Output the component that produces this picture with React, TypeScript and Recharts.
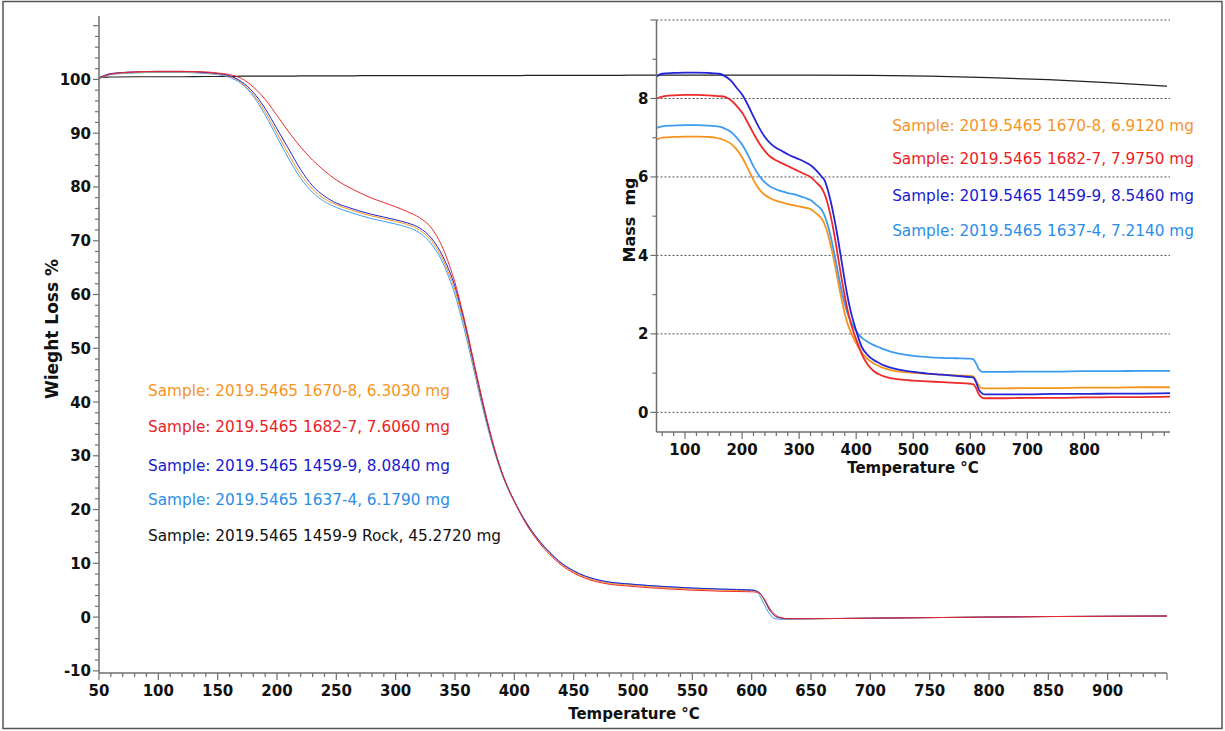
import React from 'react';
import { LineChart, Line, XAxis, YAxis, ReferenceLine } from 'recharts';

// temperature grid shared by every curve (°C)
const temps = [
  50, 60, 80, 100, 120, 140,
  150, 160, 170, 180, 190, 200, 210, 220, 230, 240, 250, 260, 270, 280, 290, 300, 310, 320, 330, 340,
  345, 350, 355, 360, 365, 370, 375, 380, 385, 390, 395, 400,
  410, 420, 430, 440, 450, 460,
  475, 500, 525, 550, 575, 600,
  605, 610, 615, 620, 625, 630,
  650, 700, 750, 800, 850, 900, 950,
];

// main chart, weight loss %
const pct1670 = [
  100.2, 101.0, 101.3, 101.4, 101.4, 101.2,
  101.0, 100.6, 99.4, 97.2, 94.0, 90.0, 86.0, 82.3, 79.6, 77.8, 76.7, 75.9, 75.2, 74.6, 74.1, 73.6, 73.0, 72.0, 70.0, 66.4,
  63.8, 60.8, 56.9, 52.4, 47.5, 42.6, 37.9, 33.6, 29.8, 26.5, 23.8, 21.5,
  17.5, 14.3, 11.8, 9.8, 8.4, 7.4,
  6.5, 5.9, 5.5, 5.2, 5.0, 4.9,
  4.7, 3.4, 1.3, 0.1, -0.2, -0.3,
  -0.3, -0.2, -0.1, 0.0, 0.1, 0.15, 0.2,
];
const pct1682 = [
  100.2, 101.0, 101.4, 101.5, 101.5, 101.4,
  101.2, 100.9, 100.2, 98.6, 96.3, 93.3, 90.2, 87.4, 85.0, 83.0, 81.3, 80.0, 78.9, 77.9, 77.1, 76.3, 75.4, 74.3, 72.4, 68.5,
  65.6, 62.2, 58.0, 53.4, 48.4, 43.4, 38.6, 34.1, 30.1, 26.7, 23.9, 21.5,
  17.3, 14.1, 11.6, 9.6, 8.2, 7.2,
  6.3, 5.7, 5.3, 5.0, 4.8, 4.7,
  4.6, 3.6, 1.7, 0.4, -0.1, -0.3,
  -0.3, -0.2, -0.1, 0.0, 0.1, 0.15, 0.2,
];
const pct1459 = [
  100.3, 101.1, 101.4, 101.5, 101.5, 101.3,
  101.1, 100.7, 99.6, 97.6, 94.6, 90.8, 87.0, 83.2, 80.2, 78.3, 77.0, 76.2, 75.5, 74.9, 74.4, 73.9, 73.3, 72.4, 70.5, 67.0,
  64.5, 61.5, 57.5, 53.0, 48.0, 43.0, 38.2, 33.8, 29.9, 26.6, 23.9, 21.6,
  17.6, 14.5, 12.0, 10.0, 8.6, 7.6,
  6.7, 6.1, 5.7, 5.4, 5.2, 5.0,
  4.8, 3.5, 1.4, 0.2, -0.2, -0.3,
  -0.3, -0.2, -0.1, 0.0, 0.1, 0.15, 0.2,
];
const pct1637 = [
  100.1, 100.9, 101.2, 101.3, 101.3, 101.1,
  100.9, 100.4, 99.2, 96.9, 93.4, 89.3, 85.2, 81.6, 79.0, 77.3, 76.2, 75.4, 74.7, 74.1, 73.6, 73.1, 72.5, 71.5, 69.4, 65.8,
  63.1, 60.0, 56.0, 51.6, 46.8, 42.0, 37.4, 33.2, 29.5, 26.3, 23.6, 21.4,
  17.5, 14.4, 12.0, 10.0, 8.6, 7.6,
  6.7, 6.1, 5.7, 5.4, 5.2, 5.1,
  4.6, 2.6, 0.6, -0.3, -0.4, -0.4,
  -0.3, -0.2, -0.1, 0.0, 0.1, 0.15, 0.2,
];
const pctRock = [
  100.4, 100.45, 100.5, 100.5, 100.5, 100.55,
  100.55, 100.55, 100.6, 100.6, 100.6, 100.6, 100.6, 100.65, 100.65, 100.65, 100.65, 100.65, 100.7, 100.7, 100.7, 100.7, 100.7, 100.7, 100.7, 100.7,
  100.7, 100.7, 100.7, 100.7, 100.7, 100.7, 100.7, 100.7, 100.7, 100.7, 100.7, 100.7,
  100.75, 100.75, 100.75, 100.75, 100.75, 100.75,
  100.75, 100.8, 100.8, 100.8, 100.8, 100.8,
  100.8, 100.8, 100.8, 100.8, 100.8, 100.8,
  100.8, 100.75, 100.6, 100.35, 99.95, 99.4, 98.75,
];

// inset, mass mg
const mg1670 = [
  6.95, 7.00, 7.02, 7.03, 7.03, 7.02,
  7.01, 6.98, 6.93, 6.85, 6.71, 6.50, 6.22, 5.92, 5.69, 5.54, 5.45, 5.39, 5.35, 5.31, 5.28, 5.25, 5.22, 5.18, 5.07, 4.92,
  4.78, 4.56, 4.28, 3.95, 3.58, 3.20, 2.84, 2.52, 2.26, 2.06, 1.90, 1.76,
  1.52, 1.36, 1.25, 1.18, 1.12, 1.08,
  1.04, 1.01, 0.98, 0.96, 0.94, 0.93,
  0.92, 0.82, 0.68, 0.62, 0.61, 0.61,
  0.61, 0.62, 0.62, 0.63, 0.63, 0.64, 0.64,
];
const mg1682 = [
  8.00, 8.05, 8.08, 8.09, 8.09, 8.08,
  8.07, 8.06, 8.04, 7.96, 7.82, 7.64, 7.38, 7.11, 6.86, 6.66, 6.51, 6.42, 6.35, 6.28, 6.21, 6.14, 6.07, 6.00, 5.86, 5.70,
  5.55, 5.32, 5.02, 4.66, 4.24, 3.80, 3.36, 2.96, 2.60, 2.30, 2.06, 1.86,
  1.48, 1.22, 1.06, 0.97, 0.91, 0.87,
  0.84, 0.81, 0.79, 0.77, 0.75, 0.73,
  0.72, 0.62, 0.46, 0.38, 0.36, 0.36,
  0.36, 0.37, 0.37, 0.38, 0.39, 0.39, 0.40,
];
const mg1459 = [
  8.56, 8.63, 8.65, 8.66, 8.66, 8.65,
  8.64, 8.63, 8.57, 8.46, 8.28, 8.10, 7.84, 7.54, 7.25, 7.02, 6.85, 6.74, 6.66, 6.58, 6.51, 6.45, 6.38, 6.30, 6.17, 6.00,
  5.90, 5.68, 5.40, 5.06, 4.68, 4.25, 3.80, 3.35, 2.94, 2.60, 2.32, 2.08,
  1.66, 1.46, 1.34, 1.26, 1.19, 1.14,
  1.09, 1.03, 0.99, 0.96, 0.93, 0.90,
  0.89, 0.77, 0.58, 0.49, 0.46, 0.46,
  0.46, 0.46, 0.47, 0.47, 0.48, 0.48, 0.49,
];
const mg1637 = [
  7.25, 7.29, 7.31, 7.32, 7.32, 7.31,
  7.30, 7.28, 7.23, 7.15, 7.01, 6.83, 6.57, 6.27, 6.03, 5.86, 5.75, 5.68, 5.63, 5.59, 5.56, 5.52, 5.47, 5.41, 5.29, 5.15,
  5.00, 4.78, 4.50, 4.17, 3.80, 3.42, 3.06, 2.76, 2.52, 2.33, 2.18, 2.07,
  1.90, 1.80, 1.72, 1.66, 1.60, 1.55,
  1.50, 1.44, 1.41, 1.39, 1.38, 1.37,
  1.36, 1.25, 1.10, 1.04, 1.03, 1.03,
  1.03, 1.04, 1.04, 1.05, 1.05, 1.06, 1.06,
];

// tick labels
const mainXLabels = [50, 100, 150, 200, 250, 300, 350, 400, 450, 500, 550, 600, 650, 700, 750, 800, 850, 900];
const mainYLabels = [-10, 0, 10, 20, 30, 40, 50, 60, 70, 80, 90, 100];
const insetXLabels = [100, 200, 300, 400, 500, 600, 700, 800];
const insetYLabels = [0, 2, 4, 6, 8];
const insetGrid = [0, 2, 4, 6, 8, 10];

const mainLegend = [
  { text: 'Sample: 2019.5465 1670-8, 6.3030 mg', color: '#f7941d', y: 390 },
  { text: 'Sample: 2019.5465 1682-7, 7.6060 mg', color: '#ec1c24', y: 426 },
  { text: 'Sample: 2019.5465 1459-9, 8.0840 mg', color: '#1a1acf', y: 465 },
  { text: 'Sample: 2019.5465 1637-4, 6.1790 mg', color: '#2b8de8', y: 499 },
  { text: 'Sample: 2019.5465 1459-9 Rock, 45.2720 mg', color: '#111', y: 535 },
];
const insetLegend = [
  { text: 'Sample: 2019.5465 1670-8, 6.9120 mg', color: '#f7941d', y: 125 },
  { text: 'Sample: 2019.5465 1682-7, 7.9750 mg', color: '#ec1c24', y: 158 },
  { text: 'Sample: 2019.5465 1459-9, 8.5460 mg', color: '#1a1acf', y: 195 },
  { text: 'Sample: 2019.5465 1637-4, 7.2140 mg', color: '#2b8de8', y: 230 },
];

const C_ORANGE = '#f7941d';
const C_RED = '#ee2a2a';
const C_BLUE = '#2424d8';
const C_LBLUE = '#3d9bf0';

const FONT = '"DejaVu Sans", Verdana, sans-serif';
const AXIS = '#6f6f6f';

const mainData = temps.map((t, i) => ({
  t, a: pct1670[i], b: pct1682[i], c: pct1459[i], d: pct1637[i], rock: pctRock[i],
}));
const insetData = temps.map((t, i) => ({
  t, a: mg1670[i], b: mg1682[i], c: mg1459[i], d: mg1637[i],
}));

const mainXTicks = Array.from({ length: 91 }, (_, i) => 50 + i * 10);
const mainYTicks = Array.from({ length: 61 }, (_, i) => -10 + i * 2);
const insetXTicks = Array.from({ length: 45 }, (_, i) => 60 + i * 20);
const insetYTicks = Array.from({ length: 11 }, (_, i) => i);

const xTick = (labels: number[], majorEvery: number) => (p: any) => {
  const v = p.payload.value;
  const major = v % majorEvery === 0;
  return (
    <g>
      <line x1={p.x} x2={p.x} y1={p.y} y2={p.y + (major ? 7 : 4)} stroke={AXIS} strokeWidth={1.2} />
      {labels.includes(v) && (
        <text x={p.x} y={p.y + 23} textAnchor="middle" fontFamily={FONT} fontWeight="bold" fontSize={15} fill="#111">
          {v}
        </text>
      )}
    </g>
  );
};

const yTick = (labels: number[], majorEvery: number) => (p: any) => {
  const v = p.payload.value;
  const major = v % majorEvery === 0;
  return (
    <g>
      <line x1={p.x} x2={p.x - (major ? 6 : 4)} y1={p.y} y2={p.y} stroke={AXIS} strokeWidth={1.2} />
      {labels.includes(v) && (
        <text x={p.x - 8} y={p.y + 5.5} textAnchor="end" fontFamily={FONT} fontWeight="bold" fontSize={15} fill="#111">
          {v}
        </text>
      )}
    </g>
  );
};

export default function App() {
  return (
    <div style={{ position: 'absolute', left: 0, top: 0, width: 1225, height: 731, background: '#fff' }}>
      <div style={{ position: 'absolute', left: 0, top: 0 }}>
        <LineChart width={1225} height={731} data={mainData} margin={{ top: 16, right: 58, bottom: 0, left: 0 }}>
          <XAxis
            dataKey="t" type="number" domain={[50, 950]} ticks={mainXTicks} interval={0}
            tickSize={0} tickMargin={0} height={58} tick={xTick(mainXLabels, 50)}
            axisLine={{ stroke: AXIS, strokeWidth: 1.5 }}
          />
          <YAxis
            type="number" domain={[-10.4, 111.8]} ticks={mainYTicks} interval={0}
            tickSize={0} tickMargin={0} width={99} tick={yTick(mainYLabels, 10)}
            axisLine={{ stroke: AXIS, strokeWidth: 1.5 }} allowDataOverflow
          />
          <Line dataKey="rock" stroke="#222" strokeWidth={1.2} dot={false} type="monotone" isAnimationActive={false} />
          <Line dataKey="d" stroke={C_LBLUE} strokeWidth={1} dot={false} type="monotone" isAnimationActive={false} />
          <Line dataKey="a" stroke={C_ORANGE} strokeWidth={1} dot={false} type="monotone" isAnimationActive={false} />
          <Line dataKey="c" stroke={C_BLUE} strokeWidth={1} dot={false} type="monotone" isAnimationActive={false} />
          <Line dataKey="b" stroke={C_RED} strokeWidth={1} dot={false} type="monotone" isAnimationActive={false} />
        </LineChart>
      </div>

      <div style={{ position: 'absolute', left: 600, top: 0 }}>
        <LineChart width={620} height={480} data={insetData} margin={{ top: 20, right: 50, bottom: 0, left: 0 }}>
          <XAxis
            dataKey="t" type="number" domain={[50, 950]} ticks={insetXTicks} interval={0}
            tickSize={0} tickMargin={0} height={48} tick={xTick(insetXLabels, 100)}
            axisLine={{ stroke: AXIS, strokeWidth: 1.5 }}
          />
          <YAxis
            type="number" domain={[-0.5, 10]} ticks={insetYTicks} interval={0}
            tickSize={0} tickMargin={0} width={56.5} tick={yTick(insetYLabels, 2)}
            axisLine={{ stroke: AXIS, strokeWidth: 1.5 }} allowDataOverflow
          />
          {insetGrid.map(v => (
            <ReferenceLine key={v} y={v} stroke="#555" strokeDasharray="2 2" strokeWidth={1} />
          ))}
          <Line dataKey="a" stroke={C_ORANGE} strokeWidth={1.8} dot={false} type="monotone" isAnimationActive={false} />
          <Line dataKey="d" stroke={C_LBLUE} strokeWidth={1.8} dot={false} type="monotone" isAnimationActive={false} />
          <Line dataKey="b" stroke={C_RED} strokeWidth={1.8} dot={false} type="monotone" isAnimationActive={false} />
          <Line dataKey="c" stroke={C_BLUE} strokeWidth={1.8} dot={false} type="monotone" isAnimationActive={false} />
        </LineChart>
      </div>

      <svg width={1225} height={731} style={{ position: 'absolute', left: 0, top: 0, pointerEvents: 'none' }}>
        <rect x={3} y={1.5} width={1219} height={727} fill="none" stroke="#555" strokeWidth={1.5} />
        {mainLegend.map(l => (
          <text key={l.text} x={148} y={l.y + 5.5} fontFamily={FONT} fontSize={15.3} fill={l.color}>{l.text}</text>
        ))}
        {insetLegend.map(l => (
          <text key={l.text} x={1194} y={l.y + 5.5} textAnchor="end" fontFamily={FONT} fontSize={15.3} fill={l.color}>{l.text}</text>
        ))}
        <text x={634} y={719} textAnchor="middle" fontFamily={FONT} fontWeight="bold" fontSize={15} fill="#111">Temperature °C</text>
        <text x={913} y={473} textAnchor="middle" fontFamily={FONT} fontWeight="bold" fontSize={15} fill="#111">Temperature °C</text>
        <text x={58} y={329} transform="rotate(-90 58 329)" textAnchor="middle" fontFamily={FONT} fontWeight="bold" fontSize={17} fill="#111">Wieght Loss %</text>
        <text x={635} y={220} transform="rotate(-90 635 220)" textAnchor="middle" fontFamily={FONT} fontWeight="bold" fontSize={16} fill="#111" style={{ whiteSpace: 'pre' }}>{'Mass  mg'}</text>
      </svg>
    </div>
  );
}
